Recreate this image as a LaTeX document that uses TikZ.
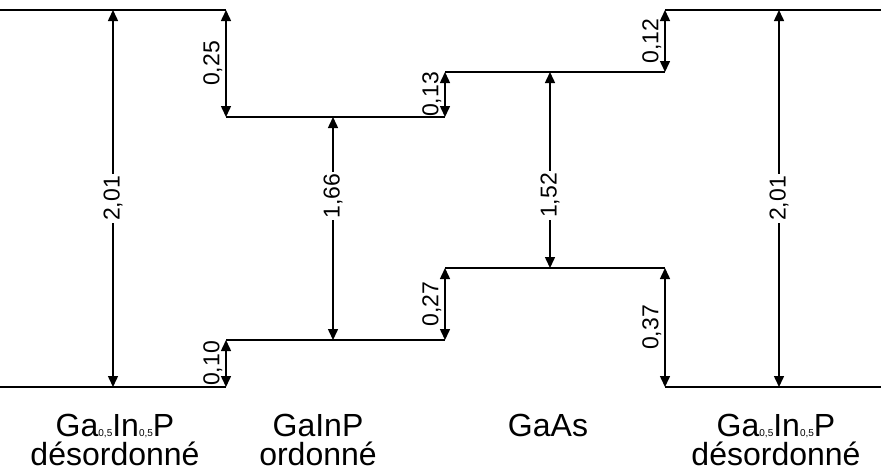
\documentclass[tikz,border=0pt]{standalone}
\usepackage{fontspec}
\setmainfont{Liberation Sans}
\usetikzlibrary{arrows.meta}
\newcommand{\lowidx}[1]{\raisebox{0pt}[0pt][0pt]{\fontsize{10}{10}\selectfont #1}}
\begin{document}
\begin{tikzpicture}[x=1pt,y=-1pt,font=\fontsize{23}{23}\selectfont,
  level/.style={line width=2.8pt},
  dim/.style={line width=1.5pt,
              {Triangle[length=11pt,width=10pt]}-{Triangle[length=11pt,width=10pt]}},
  val/.style={rotate=90,fill=white,inner sep=2pt},
  side/.style={rotate=90,anchor=south,inner sep=3pt},
  mat/.style={align=center,anchor=north,inner sep=0pt,
              font=\fontsize{32}{29}\selectfont}]
  \useasboundingbox (0,0) rectangle (881,475);
  \coordinate (lc1) at (0,10);    \coordinate (lc2) at (226,10);
  \coordinate (gc1) at (226,117); \coordinate (gc2) at (445,117);
  \coordinate (ac1) at (445,72);  \coordinate (ac2) at (665,72);
  \coordinate (rc1) at (665,10);  \coordinate (rc2) at (881,10);
  \coordinate (lv1) at (0,387);   \coordinate (lv2) at (226,387);
  \coordinate (gv1) at (226,340); \coordinate (gv2) at (445,340);
  \coordinate (av1) at (445,268); \coordinate (av2) at (665,268);
  \coordinate (rv1) at (665,387); \coordinate (rv2) at (881,387);
  \coordinate (lgt) at (113,10);  \coordinate (lgb) at (113,387);
  \coordinate (ggt) at (333,117); \coordinate (ggb) at (333,340);
  \coordinate (agt) at (550,72);  \coordinate (agb) at (550,268);
  \coordinate (rgt) at (779,10);  \coordinate (rgb) at (779,387);
  \draw[level] (lc1) -- (lc2);
  \draw[level] (gc1) -- (gc2);
  \draw[level] (ac1) -- (ac2);
  \draw[level] (rc1) -- (rc2);
  \draw[level] (lv1) -- (lv2);
  \draw[level] (gv1) -- (gv2);
  \draw[level] (av1) -- (av2);
  \draw[level] (rv1) -- (rv2);
  \draw[dim] (lgt) -- (lgb) node[val,midway] {2,01};
  \draw[dim] (ggt) -- (ggb) node[val,pos=0.354] {1,66};
  \draw[dim] (agt) -- (agb) node[val,pos=0.63] {1,52};
  \draw[dim] (rgt) -- (rgb) node[val,midway] {2,01};
  \draw[dim] (lc2) -- (gc1) node[side,midway] {0,25};
  \draw[dim] (ac1) -- (gc2) node[side,midway] {0,13};
  \draw[dim] (rc1) -- (ac2) node[side,midway] {0,12};
  \draw[dim] (gv1) -- (lv2) node[side,midway] {0,10};
  \draw[dim] (av1) -- (gv2) node[side,midway] {0,27};
  \draw[dim] (av2) -- (rv1) node[side,midway] {0,37};
  \node[mat] (m1) at (115,414) {Ga\lowidx{0,5}In\lowidx{0,5}P\\ désordonné};
  \node[mat] (m2) at (318,414) {GaInP\\ ordonné};
  \node[mat] (m3) at (548,414) {GaAs};
  \node[mat] (m4) at (776,414) {Ga\lowidx{0,5}In\lowidx{0,5}P\\ désordonné};
\end{tikzpicture}
\end{document}
